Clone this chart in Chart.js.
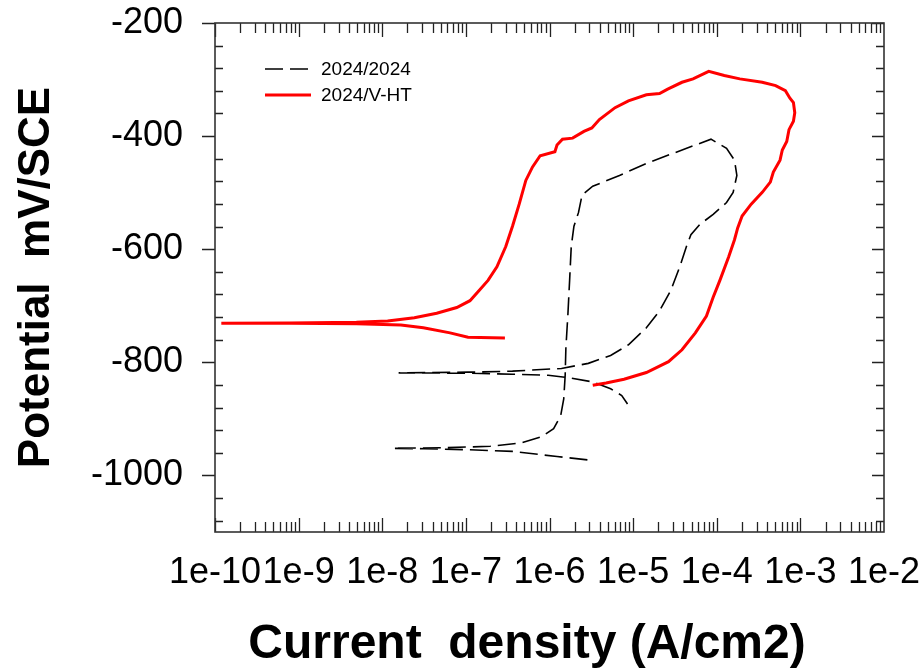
<!DOCTYPE html>
<html>
<head>
<meta charset="utf-8">
<script src="https://cdn.jsdelivr.net/npm/chart.js@4.4.1/dist/chart.umd.min.js"></script>
<style>
  html, body { margin: 0; padding: 0; background: #fff; }
  #wrap { width: 924px; height: 668px; }
</style>
</head>
<body>
<div id="wrap"><canvas id="polarization"></canvas></div>
<script>
const xTicks = [1e-10, 1e-9, 1e-8, 1e-7, 1e-6, 1e-5, 1e-4, 1e-3, 1e-2];
const xTickLabels = ["1e-10", "1e-9", "1e-8", "1e-7", "1e-6", "1e-5", "1e-4", "1e-3", "1e-2"];
const yTicks = [-1000, -800, -600, -400, -200];
const yTickLabels = ["-1000", "-800", "-600", "-400", "-200"];

// 2024/2024 (dashed black)
const alloyCurrent = [
  2.84e-6, 1.23e-6, 3.61e-7, 1.06e-7, 3.10e-8, 1.34e-8, 5.71e-8, 1.95e-7, 4.61e-7, 8.02e-7,
  1.12e-6, 1.36e-6, 1.48e-6, 1.54e-6, 1.57e-6, 1.66e-6, 1.74e-6, 1.82e-6, 1.96e-6, 2.22e-6,
  2.45e-6, 3.29e-6, 6.87e-6, 1.44e-5, 3.00e-5, 8.53e-5, 1.31e-4, 1.63e-4, 1.74e-4, 1.57e-4,
  1.31e-4, 9.06e-5, 6.27e-5, 4.91e-5, 4.34e-5, 3.61e-5, 2.82e-5, 2.07e-5, 1.44e-5, 8.79e-6,
  5.38e-6, 2.91e-6, 1.39e-6, 3.61e-7, 1.06e-7, 1.57e-8, 1.06e-7, 3.61e-7, 9.64e-7, 1.78e-6,
  3.29e-6, 5.38e-6, 7.31e-6, 8.57e-6
];
const alloyPotential = [
  -972.5, -966.5, -957.5, -954.5, -952.7, -952.1, -950.9, -948.5, -942.5, -931.7,
  -917.4, -894.6, -864.7, -822.8, -774.8, -714.9, -655.1, -595.2, -559.3, -535.3,
  -504.2, -488.6, -469.5, -448.5, -430.5, -405.4, -421.6, -442.5, -469.5, -499.4,
  -517.4, -538.3, -556.3, -574.3, -595.2, -631.1, -673.1, -709.0, -738.9, -768.9,
  -788.0, -801.8, -810.8, -815.6, -817.4, -818.6, -819.2, -821.0, -822.8, -827.6,
  -834.7, -846.7, -858.7, -873.6
];

// 2024/V-HT (solid red)
const vhtCurrent = [
  2.93e-7, 1.06e-7, 6.47e-8, 3.10e-8, 1.67e-8, 4.91e-9, 7.78e-10, 1.19e-10, 7.78e-10, 4.91e-9,
  1.16e-8, 2.42e-8, 4.48e-8, 7.78e-8, 1.12e-7, 1.44e-7, 1.84e-7, 2.35e-7, 3.00e-7, 3.61e-7,
  4.34e-7, 5.21e-7, 6.27e-7, 7.73e-7, 1.16e-6, 1.23e-6, 1.43e-6, 1.89e-6, 2.58e-6, 3.21e-6,
  3.95e-6, 6.08e-6, 8.79e-6, 1.44e-5, 2.07e-5, 2.59e-5, 3.84e-5, 5.21e-5, 8.02e-5, 1.23e-4,
  1.89e-4, 3.50e-4, 5.06e-4, 6.62e-4, 7.50e-4, 8.26e-4, 8.57e-4, 8.26e-4, 7.31e-4, 6.87e-4,
  6.08e-4, 5.71e-4, 4.75e-4, 4.37e-4, 3.50e-4, 2.58e-4, 2.01e-4, 1.78e-4, 1.63e-4, 1.39e-4,
  1.09e-4, 9.06e-5, 7.53e-5, 5.55e-5, 3.84e-5, 2.65e-5, 1.44e-5, 7.78e-6, 4.75e-6, 3.29e-6
];
const vhtPotential = [
  -756.9, -755.7, -747.9, -738.9, -734.1, -731.7, -731.1, -731.1, -730.5, -729.3,
  -726.9, -721.0, -713.2, -703.0, -691.0, -673.1, -655.1, -631.1, -595.2, -559.3,
  -520.4, -478.4, -454.5, -434.7, -427.5, -415.6, -405.4, -403.6, -391.6, -385.6,
  -370.7, -349.7, -337.7, -326.9, -324.6, -316.8, -304.8, -298.8, -285.6, -292.8,
  -298.8, -304.8, -310.8, -319.8, -332.9, -340.7, -358.7, -373.7, -388.6, -409.6,
  -424.6, -442.5, -463.5, -481.4, -499.4, -520.4, -541.3, -562.3, -583.2, -613.2,
  -655.1, -685.0, -718.0, -747.9, -777.8, -798.8, -818.0, -829.9, -836.5, -840.7
];

const toPoints = (xs, ys) => xs.map((x, i) => ({ x: x, y: ys[i] }));
const FONT = "Arial, 'Liberation Sans', sans-serif";

// box, inward ticks, legend and axis titles
const frameTicks = {
  id: 'frameTicks',
  afterDraw(chart) {
    const { ctx, chartArea: a, scales: { x, y } } = chart;
    ctx.save();
    ctx.strokeStyle = '#222';
    ctx.lineWidth = 1.3;
    ctx.beginPath();
    for (let d = -10; d < -2; d++) {
      for (let m = 1; m < 10; m++) {
        const px = Math.round(x.getPixelForValue(m * Math.pow(10, d))) + 0.5;
        const len = m === 1 ? 14 : 10;
        ctx.moveTo(px, a.bottom); ctx.lineTo(px, a.bottom - len);
        ctx.moveTo(px, a.top); ctx.lineTo(px, a.top + len);
      }
    }
    for (let v = -200; v >= -1080; v -= 40) {
      const py = Math.round(y.getPixelForValue(v)) + 0.5;
      if (v % 200 === 0) {
        ctx.moveTo(a.left - 13, py); ctx.lineTo(a.left, py);
        ctx.moveTo(a.right, py); ctx.lineTo(a.right - 12, py);
      } else {
        ctx.moveTo(a.left, py); ctx.lineTo(a.left + 8, py);
        ctx.moveTo(a.right, py); ctx.lineTo(a.right - 8, py);
      }
    }
    ctx.stroke();
    ctx.strokeStyle = '#333';
    ctx.lineWidth = 1.6;
    ctx.strokeRect(a.left, a.top, a.right - a.left, a.bottom - a.top);

    // legend
    ctx.font = '19px ' + FONT;
    ctx.textBaseline = 'middle';
    ctx.textAlign = 'left';
    ctx.fillStyle = '#000';
    chart.data.datasets.forEach((ds, i) => {
      const ly = 69 + i * 26;
      ctx.beginPath();
      ctx.strokeStyle = ds.borderColor;
      ctx.lineWidth = ds.borderWidth;
      ctx.setLineDash(ds.borderDash || []);
      ctx.moveTo(265, ly); ctx.lineTo(311, ly);
      ctx.stroke();
      ctx.setLineDash([]);
      ctx.fillText(ds.label, 321, ly + 1);
    });

    // axis titles
    ctx.fillStyle = '#000';
    ctx.textAlign = 'center';
    ctx.font = 'bold 48px ' + FONT;
    ctx.fillText('Current  density (A/cm2)', 527, 645);
    ctx.translate(37, (a.top + a.bottom) / 2);
    ctx.rotate(-Math.PI / 2);
    ctx.font = 'bold 44px ' + FONT;
    ctx.fillText('Potential  mV/SCE', 0, 0);
    ctx.restore();
  }
};

new Chart(document.getElementById('polarization'), {
  type: 'scatter',
  data: {
    datasets: [{
      label: '2024/2024',
      data: toPoints(alloyCurrent, alloyPotential),
      showLine: true,
      borderColor: '#000000',
      borderWidth: 1.6,
      borderDash: [18, 7],
      pointRadius: 0,
      order: 2
    }, {
      label: '2024/V-HT',
      data: toPoints(vhtCurrent, vhtPotential),
      showLine: true,
      borderColor: '#ff0000',
      borderWidth: 3,
      pointRadius: 0,
      order: 1
    }]
  },
  options: {
    responsive: true,
    maintainAspectRatio: false,
    animation: false,
    layout: { padding: { left: 0, right: 40, top: 23, bottom: 0 } },
    plugins: {
      legend: { display: false },
      tooltip: { enabled: false }
    },
    scales: {
      x: {
        type: 'logarithmic',
        min: 1e-10,
        max: 1e-2,
        grid: { display: false, drawTicks: false },
        border: { display: false },
        afterBuildTicks: (scale) => { scale.ticks = xTicks.map(v => ({ value: v })); },
        afterFit: (scale) => {
          scale.height = 136;
          scale.paddingLeft = 0;
          scale.paddingRight = 0;
        },
        ticks: {
          autoSkip: false,
          maxRotation: 0,
          minRotation: 0,
          padding: 19,
          color: '#000',
          font: { family: FONT, size: 36 },
          callback: (v, i) => xTickLabels[i]
        }
      },
      y: {
        min: -1100,
        max: -200,
        grid: { display: false, drawTicks: false },
        border: { display: false },
        afterBuildTicks: (scale) => { scale.ticks = yTicks.map(v => ({ value: v })); },
        afterFit: (scale) => {
          scale.width = 215;
          scale.paddingTop = 0;
          scale.paddingBottom = 0;
        },
        ticks: {
          padding: 32,
          color: '#000',
          font: { family: FONT, size: 36 },
          callback: (v, i) => yTickLabels[i]
        }
      }
    }
  },
  plugins: [frameTicks]
});
</script>
</body>
</html>
